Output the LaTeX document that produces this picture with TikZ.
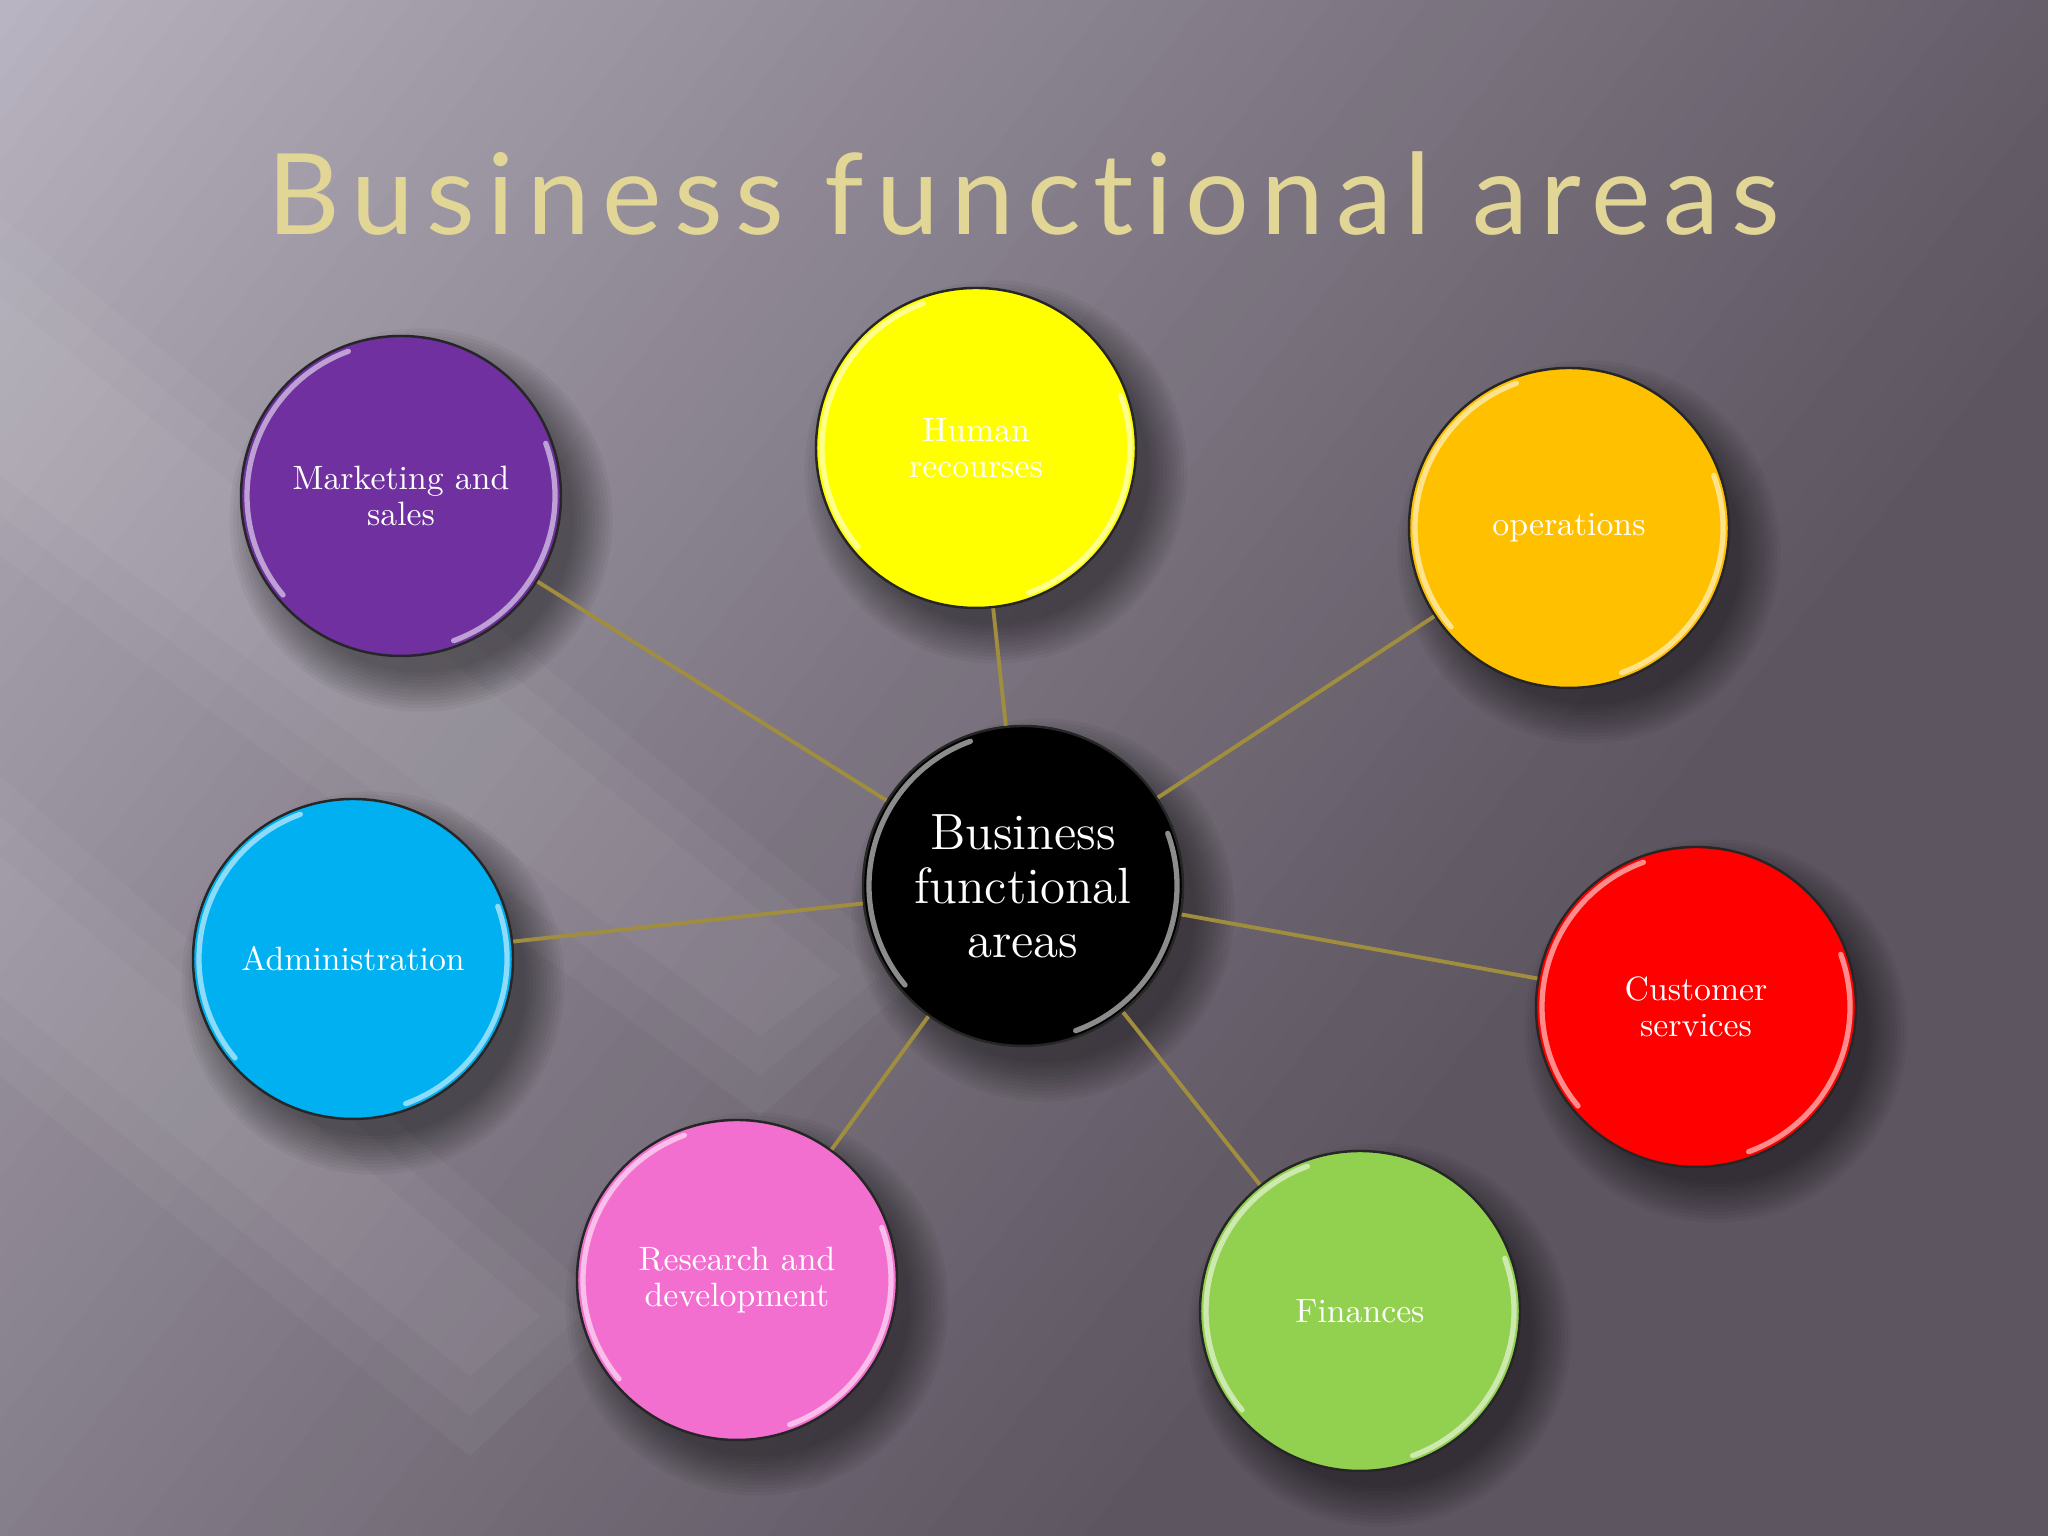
\documentclass[tikz,border=0pt]{standalone}
\usepackage{fontspec}
\newfontfamily\titlefont[LetterSpace=11, Ligatures=NoCommon]{Lato}
\usetikzlibrary{positioning, calc}
\pgfdeclarelayer{backdrop}
\pgfdeclarelayer{background}
\pgfsetlayers{backdrop,background,main}
\definecolor{bglight}{HTML}{B9B4C1}
\definecolor{bgdark}{HTML}{5D5560}
\definecolor{spokegold}{HTML}{A08E3E}
\definecolor{titlegold}{HTML}{E2D696}
\definecolor{mktpurple}{HTML}{7030A0}
\definecolor{hryellow}{HTML}{FFFF00}
\definecolor{opsorange}{HTML}{FFC000}
\definecolor{admcyan}{HTML}{00B0F0}
\definecolor{custred}{HTML}{FF0000}
\definecolor{rndpink}{HTML}{F36FCF}
\definecolor{fingreen}{HTML}{92D050}
\tikzset{
    area/.style={circle, draw=black!85, line width=0.7pt, minimum size=3.2cm,
        inner sep=0pt, text=white, align=center,
        font=\fontsize{9.6}{10.2}\selectfont},
    spoke/.style={draw=spokegold, line width=1.1pt},
    shine/.style={white, line width=1.5pt, opacity=0.55, line cap=round},
    ray/.style={white, opacity=.035},
    headline/.style={anchor=base, font=\titlefont\fontsize{32}{32}\selectfont},
}
\begin{document}
\begin{tikzpicture}
    \tikzset{node distance=1cm, on grid}

    % slide background
    \begin{pgfonlayer}{backdrop}
      \begin{scope}
        \clip (0,0) rectangle (20.48,15.36);
        \foreach \i in {0,...,104} {
          \pgfmathtruncatemacro\p{100*min(1,(\i*0.25/18)^0.85)}
          \fill[bgdark!\p!bglight, rotate around={-38:(0,15.36)}]
            ({\i*0.25},-12) rectangle ({\i*0.25+0.3},30);
        }
        \foreach \w in {0,0.4,0.8} {
          \fill[ray] (0,10.6-\w) -- (0,12.4+\w) -- (8.4+\w,5.6) -- (7.6,5.0-\w) -- cycle;
          \fill[ray] (0,5.4-\w) -- (0,6.8+\w) -- (5.4+\w,2.2) -- (4.7,1.6-\w) -- cycle;
        }
      \end{scope}
    \end{pgfonlayer}
    \useasboundingbox (0,0) rectangle (20.48,15.36);

    \node[headline, text=titlegold] (title) at (10.24,13.01) {Business functional areas};

    \node[area, fill=black, font=\fontsize{14.5}{15.4}\selectfont] (biz) at (10.23,6.50) {Business\\functional\\areas};
    \node[area, fill=mktpurple, above left=3.90cm and 6.22cm of biz] (mkt) {Marketing and\\sales};
    \node[area, fill=hryellow, above left=4.38cm and 0.47cm of biz] (hr) {Human\\recourses};
    \node[area, fill=opsorange, above right=3.58cm and 5.46cm of biz] (ops) {operations};
    \node[area, fill=admcyan, below left=0.73cm and 6.70cm of biz] (adm) {Administration};
    \node[area, fill=custred, below right=1.21cm and 6.73cm of biz] (cust) {Customer\\services};
    \node[area, fill=rndpink, below left=3.94cm and 2.86cm of biz] (rnd) {Research and\\development};
    \node[area, fill=fingreen, below right=4.25cm and 3.37cm of biz] (fin) {Finances};

    % soft shadows
    \begin{pgfonlayer}{background}
      \foreach \n in {biz,mkt,hr,ops,adm,cust,rnd,fin}
        \foreach \k in {1,...,12}
          \fill[black, opacity=.04] ($(\n.center)+(0.2,-0.24)$) circle ({1.95-\k*0.035});
    \end{pgfonlayer}

    \foreach \n in {mkt,hr,ops,adm,cust,rnd,fin}
      \draw[spoke] (biz) -- (\n);

    % glossy rims
    \foreach \n in {biz,mkt,hr,ops,adm,cust,rnd,fin} {
      \draw[shine] ($(\n.center)+(110:1.54)$) arc (110:220:1.54);
      \draw[shine] ($(\n.center)+(-70:1.54)$) arc (-70:20:1.54);
    }
\end{tikzpicture}
\end{document}
